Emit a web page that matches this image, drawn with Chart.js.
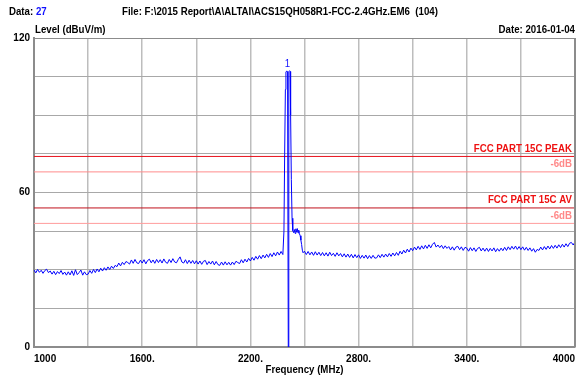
<!DOCTYPE html>
<html><head><meta charset="utf-8">
<script src="https://cdn.jsdelivr.net/npm/chart.js@4/dist/chart.umd.min.js"></script>
<style>html,body{margin:0;padding:0;background:#fff;}canvas{display:block;}</style>
</head><body>
<canvas id="c" width="581" height="376"></canvas>
<script>
// ---- data ----
const lowBandStart = 1000, lowBandStep = 10;
const lowBandLevels = [
29.9,28.8,30.1,29.0,29.8,28.6,29.7,30.2,28.9,29.5,
28.3,29.4,28.1,29.3,28.5,29.7,28.2,29.1,27.9,29.2,
28.0,29.6,27.8,30.0,28.1,28.9,29.9,27.9,29.2,28.1,
28.3,29.7,28.6,30.1,28.9,30.3,29.2,30.6,29.5,30.8,
29.8,31.1,30.1,31.4,30.5,31.7,31.2,32.6,31.5,32.9,
32.0,33.2,32.8,32.2,33.8,32.5,34.0,32.7,32.4,33.7,
32.6,33.9,32.3,33.6,34.1,32.7,33.8,32.5,34.0,32.8,
33.9,32.6,34.2,32.9,32.5,34.0,32.8,34.3,33.0,32.7,
34.0,35.0,33.0,32.6,33.9,32.4,33.7,32.5,33.6,32.3,
33.5,32.2,33.4,32.1,33.3,33.6,32.0,33.2,32.2,33.4,
31.9,33.2,32.0,31.7,33.0,31.8,33.1,31.9,32.9,31.8,
33.0,32.0,33.3,32.8,32.4,33.9,32.7,34.1,33.0,34.4,
33.4,34.8,33.7,35.2,34.1,35.5,34.3,35.7,34.6,36.0,
34.8,36.3,35.1,36.6,35.4,36.9,35.7,37.1,35.9
];
const peakFreqs  = [2386,2390,2394,2397,2402,2406,2410,2413,2417,2420,2423,2427,2431,2435,2440,2444,2448,2452,2456,2460,2464,2468,2472,2476,2480,2484,2488,2492];
const peakLevels = [45,75,100,106.8,107.2,107.0,0,106.9,107.3,107.0,90,65,50,45.2,44.4,45.6,44.1,45.9,44.6,46.0,44.3,45.4,44.0,43.2,41.5,39.8,37.6,36.6];
const highBandStart = 2500, highBandStep = 10;
const highBandLevels = [
37.2,35.9,37.1,35.8,36.9,35.6,37.0,35.7,36.8,35.5,
36.7,35.4,36.6,35.3,36.8,35.5,36.4,35.2,36.6,35.4,
36.3,35.0,36.2,34.9,36.1,34.8,36.0,34.6,35.9,34.7,
35.8,34.4,35.6,34.5,35.7,34.3,35.5,34.4,35.6,34.5,
34.6,35.8,34.7,36.0,34.9,36.1,35.0,36.3,35.2,36.5,
35.4,36.7,35.6,37.2,36.1,37.6,36.5,38.0,36.9,38.4,
37.4,38.8,37.7,39.1,37.9,39.3,38.1,39.5,38.3,39.7,
38.5,39.9,40.6,38.8,39.6,38.6,39.5,38.2,39.3,38.3,
39.0,37.7,38.9,37.6,38.8,39.1,37.8,38.9,37.5,38.7,
38.4,37.2,38.6,37.4,38.5,37.1,38.3,38.7,37.3,38.4,
37.2,38.4,37.1,38.3,37.3,38.5,37.0,38.2,37.2,38.4,
37.4,38.7,37.5,38.9,37.8,39.1,38.0,39.2,37.9,39.0,
37.8,38.9,37.6,38.7,37.5,38.5,37.2,38.2,36.8,37.9,
37.5,38.8,37.7,39.0,37.9,39.2,38.1,39.4,38.3,39.5,
38.4,39.7,38.6,39.9,38.8,40.1,39.0,40.3,40.6,39.6,
40.8
];
const limitNames  = ["FCC PART 15C PEAK", "-6dB", "FCC PART 15C AV", "-6dB"];
const limitValues = [74, 68, 54, 48];
const xTickLabels = {1000:"1000",1600:"1600.",2200:"2200.",2800:"2800.",3400:"3400.",4000:"4000"};
const yTickLabels = {0:"0",60:"60",120:"120"};
const markerFreq = 2406, markerLevel = 107.2, markerText = "1";
const headerData = "27";
const headerFile = "File: F:\\2015 Report\\A\\ALTAI\\ACS15QH058R1-FCC-2.4GHz.EM6  (104)";
const headerDate = "Date: 2016-01-04";
const yTitle = "Level (dBuV/m)";
const xTitle = "Frequency (MHz)";

// ---- build ----
const FONT = '"Liberation Sans", Arial, sans-serif';
const SQUEEZE = 0.88;
const trace = [];
lowBandLevels.forEach((v,i)=>trace.push({x: lowBandStart + i*lowBandStep, y: v}));
peakFreqs.forEach((f,i)=>trace.push({x: f, y: peakLevels[i]}));
highBandLevels.forEach((v,i)=>trace.push({x: highBandStart + i*highBandStep, y: v}));

const limitColors = ["#e8101c", "#ff8c8c", "#c0101c", "#ff9c9c"];
const limitTextColors = ["#ee1111", "#ff8888", "#ee1111", "#ff8888"];
const limitSets = limitValues.map((v,i)=>({
  data: [{x:1000,y:v},{x:4000,y:v}],
  borderColor: limitColors[i], borderWidth: 1, pointRadius: 0, order: 2
}));

function sq(ctx, text, x, y, align) {
  ctx.save();
  ctx.translate(x, y);
  ctx.scale(SQUEEZE, 1);
  ctx.textAlign = align;
  ctx.fillText(text, 0, 0);
  ctx.restore();
}

const textPlugin = {
  id: 'texts',
  afterDraw(chart) {
    const ctx = chart.ctx, xs = chart.scales.x, ys = chart.scales.y, a = chart.chartArea;
    ctx.save();
    ctx.strokeStyle = '#8c8c8c'; ctx.lineWidth = 1;
    ctx.beginPath(); ctx.moveTo(a.left, a.top+0.5); ctx.lineTo(a.right, a.top+0.5); ctx.stroke();
    ctx.lineWidth = 2;
    ctx.beginPath(); ctx.moveTo(a.right, a.top); ctx.lineTo(a.right, a.bottom); ctx.stroke();
    ctx.font = 'bold 11px ' + FONT;
    ctx.textBaseline = 'middle';
    ctx.fillStyle = '#000';
    sq(ctx, 'Data: ', 9, 12, 'left');
    const w = ctx.measureText('Data: ').width * SQUEEZE;
    ctx.fillStyle = '#1010ff'; sq(ctx, headerData, 9 + w, 12, 'left');
    ctx.fillStyle = '#000';
    sq(ctx, headerFile, 122, 12, 'left');
    sq(ctx, yTitle, 35, 30, 'left');
    sq(ctx, headerDate, 575, 30, 'right');
    sq(ctx, xTitle, (a.left + a.right) / 2, 370, 'center');
    ctx.textBaseline = 'bottom';
    limitNames.forEach((n,i)=>{
      const y = ys.getPixelForValue(limitValues[i]);
      ctx.fillStyle = limitTextColors[i];
      sq(ctx, n, a.right - 3, y - 2, 'right');
    });
    ctx.fillStyle = '#1010ff'; ctx.textBaseline = 'bottom';
    ctx.font = '11px ' + FONT;
    sq(ctx, markerText, xs.getPixelForValue(markerFreq), ys.getPixelForValue(markerLevel) - 1, 'center');
    ctx.restore();
  }
};

new Chart(document.getElementById('c'), {
  type: 'line',
  data: { datasets: [
    { data: trace, borderColor: '#0000ff', borderWidth: 1, pointRadius: 0, order: 1 },
    ...limitSets
  ]},
  options: {
    responsive: false, animation: false, devicePixelRatio: 1,
    layout: { padding: { left: 0, right: 6, top: 38, bottom: 0 } },
    plugins: { legend: { display: false }, tooltip: { enabled: false } },
    elements: { line: { tension: 0 } },
    scales: {
      x: {
        type: 'linear', min: 1000, max: 4000,
        afterFit(s) { s.height = 29; },
        grid: { color: '#bdbdbd', lineWidth: 1.5, drawTicks: false },
        border: { color: '#8c8c8c', width: 2 },
        ticks: { stepSize: 300, autoSkip: false, maxRotation: 0, align: 'inner', padding: 6,
          color: '#000', font: { family: FONT, size: 10, weight: 'bold' },
          callback: v => xTickLabels[v] || '' }
      },
      y: {
        min: 0, max: 120,
        afterFit(s) { s.width = 34; },
        grid: { color: '#a8a8a8', lineWidth: 1, drawTicks: false },
        border: { color: '#8c8c8c', width: 2 },
        ticks: { stepSize: 15, autoSkip: false, padding: 4,
          color: '#000', font: { family: FONT, size: 10, weight: 'bold' },
          callback: v => yTickLabels[v] || '' }
      }
    }
  },
  plugins: [textPlugin]
});
</script>
</body></html>
